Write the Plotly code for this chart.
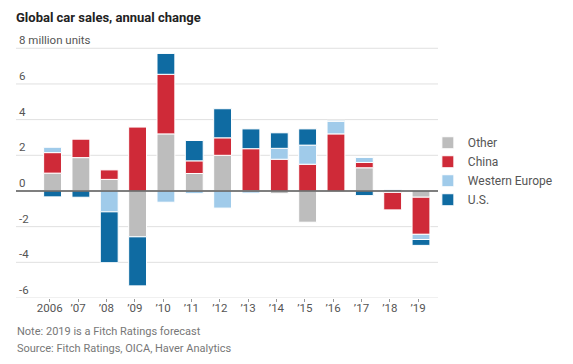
import plotly.graph_objects as go

years = ["2006", "’07", "’08", "’09", "’10", "’11", "’12", "’13", "’14", "’15", "’16", "’17", "’18", "’19"]
other = [1.0, 1.87, 0.65, -2.57, 3.2, 0.98, 2.0, 0.0, -0.15, -1.75, 0.0, 1.3, -0.08, -0.35]
china = [1.15, 1.05, 0.53, 3.6, 3.34, 0.71, 0.98, 2.37, 1.78, 1.5, 3.2, 0.3, -0.98, -2.08]
western_europe = [0.3, 0.0, -1.17, 0.0, -0.63, -0.15, -0.96, -0.12, 0.61, 1.07, 0.7, 0.28, 0.0, -0.29]
us = [-0.33, -0.35, -2.85, -2.75, 1.17, 1.14, 1.63, 1.11, 0.87, 0.91, 0.06, -0.26, 0.06, -0.33]

y_ticks = [-6, -4, -2, 0, 2, 4, 6, 8]
y_ticktext = ["-6", "-4", "-2", "0", "2", "4", "6", "8 million units"]

series = [
    ("Other", other, "#bdbdbd"),
    ("China", china, "#cf2a38"),
    ("Western Europe", western_europe, "#a0cbea"),
    ("U.S.", us, "#0f6ba2"),
]

FONT = "Roboto"
xs = list(range(len(years)))

W, H = 565, 356  # page body adds an 8px margin

fig = go.Figure()
for name, vals, color in series:
    fig.add_trace(go.Bar(
        x=xs, y=vals, name=name, width=0.63,
        marker=dict(color=color, line=dict(color="white", width=1)),
    ))

fig.update_layout(
    template="none",
    width=W, height=H,
    margin=dict(l=8, r=135, t=25.7, b=66),
    barmode="relative",
    plot_bgcolor="white", paper_bgcolor="white",
    font=dict(family=FONT, color="#555"),
    title=dict(text="<b>Global car sales, annual change</b>", x=8/W, xanchor="left",
               y=1 - 9/H, yanchor="middle",
               font=dict(family=FONT, size=13, color="#222")),
    legend=dict(x=0.976, xanchor="left", y=0.643, yanchor="top",
                traceorder="normal", font=dict(size=12, color="#555"),
                bgcolor="rgba(0,0,0,0)"),
    xaxis=dict(range=[-1.29, 13.6], tickmode="array",
               tickvals=[i - 0.1 for i in xs], ticktext=years,
               ticks="outside", ticklen=3, tickcolor="#999", tickwidth=1,
               ticklabelstandoff=-4,
               showgrid=False, showline=False, zeroline=False,
               tickfont=dict(size=11.5, color="#555")),
    yaxis=dict(range=[-6, 8.8], tickmode="array", tickvals=y_ticks, ticks="",
               showticklabels=False, showgrid=False, zeroline=False, showline=False),
    showlegend=True,
)

# horizontal gridlines behind the bars, zero baseline above them
for val in y_ticks:
    if val == 0:
        fig.add_hline(y=val, line=dict(color="#555", width=1.5), layer="above")
    else:
        fig.add_hline(y=val, line=dict(color="#e0e0e0", width=1), layer="below")

for val, label in zip(y_ticks, y_ticktext):
    fig.add_annotation(text=label, xref="paper", yref="y",
                       x=0, y=val, xanchor="left", yanchor="bottom", showarrow=False,
                       font=dict(size=11.5, color="#555"), xshift=1, yshift=-1)

fig.add_annotation(text="Note: 2019 is a Fitch Ratings forecast", xref="paper", yref="paper",
                   x=0, y=-0.1286, xanchor="left", yanchor="middle", showarrow=False,
                   font=dict(size=11, color="#777"), xshift=-1)
fig.add_annotation(text="Source: Fitch Ratings, OICA, Haver Analytics", xref="paper", yref="paper",
                   x=0, y=-0.193, xanchor="left", yanchor="middle", showarrow=False,
                   font=dict(size=11, color="#777"), xshift=-1)

fig.write_html("out.html")
